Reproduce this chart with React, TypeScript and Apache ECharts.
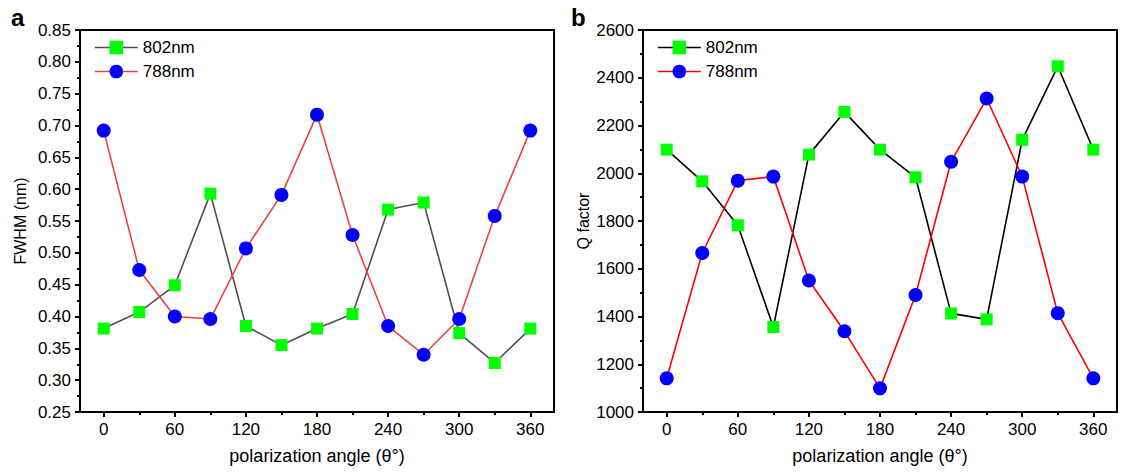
import React, { useEffect, useRef } from 'react';
import * as echarts from 'echarts';

const angles = [0, 30, 60, 90, 120, 150, 180, 210, 240, 270, 300, 330, 360];
const fwhm802 = [0.381, 0.407, 0.449, 0.593, 0.385, 0.355, 0.381, 0.404, 0.568, 0.579, 0.374, 0.327, 0.381];
const fwhm788 = [0.692, 0.473, 0.4, 0.396, 0.507, 0.591, 0.717, 0.528, 0.385, 0.34, 0.396, 0.558, 0.692];
const q802 = [2099, 1966, 1782, 1356, 2078, 2257, 2099, 1983, 1413, 1388, 2140, 2448, 2099];
const q788 = [1141, 1666, 1969, 1986, 1551, 1338, 1099, 1490, 2048, 2313, 1986, 1414, 1141];
const xMajorTicks = [0, 60, 120, 180, 240, 300, 360];
const xMinorTicks = [30, 90, 150, 210, 270, 330];
const seriesNames = ['802nm', '788nm'];
const panelLabels = ['a', 'b'];
const xTitle = 'polarization angle (θ°)';
const yTitles = ['FWHM (nm)', 'Q factor'];

const FONT = 'Liberation Sans, Arial, sans-serif';
const FS = 17;

const leftColors = { l802: '#505050', l788: '#f04040' };
const rightColors = { l802: '#000000', l788: '#ff0000' };

function pairs(ys: number[]) {
  return angles.map((a, i) => [a, ys[i]]);
}

function xAxes(gridIndex: number) {
  return [
    {
      type: 'value',
      gridIndex,
      min: -20,
      max: 380,
      name: xTitle,
      nameLocation: 'middle',
      nameGap: 35,
      nameTextStyle: { fontSize: 18, color: '#000', fontFamily: FONT },
      axisLine: { show: true, onZero: false, lineStyle: { color: '#000', width: 2 } },
      axisTick: { show: true, inside: false, length: 5, customValues: xMajorTicks, lineStyle: { color: '#000', width: 2 } },
      axisLabel: { show: true, customValues: xMajorTicks, margin: 9, fontSize: FS, color: '#000', fontFamily: FONT },
      splitLine: { show: false },
    },
    {
      type: 'value',
      gridIndex,
      min: -20,
      max: 380,
      position: 'bottom',
      axisLine: { show: false },
      axisTick: { show: true, inside: false, length: 3, customValues: xMinorTicks, lineStyle: { color: '#000', width: 2 } },
      axisLabel: { show: false },
      splitLine: { show: false },
    },
  ];
}

function yAxis(gridIndex: number, min: number, max: number, interval: number, name: string, fmt: (v: number) => string) {
  return {
    type: 'value',
    gridIndex,
    min,
    max,
    interval,
    name,
    nameLocation: 'middle',
    nameGap: 52,
    nameTextStyle: { fontSize: 16, color: '#000', fontFamily: FONT },
    axisLine: { show: true, onZero: false, lineStyle: { color: '#000', width: 2 } },
    axisTick: { show: true, inside: false, length: 5, lineStyle: { color: '#000', width: 2 } },
    minorTick: { show: true, splitNumber: 2, length: 3, lineStyle: { color: '#000', width: 2 } },
    axisLabel: { margin: 9, fontSize: FS, color: '#000', fontFamily: FONT, formatter: fmt },
    splitLine: { show: false },
  };
}

function lineSeries(name: string, xi: number, yi: number, data: number[][], lineColor: string, symbol: string, fill: string, size: number) {
  return {
    type: 'line',
    name,
    xAxisIndex: xi,
    yAxisIndex: yi,
    data,
    symbol,
    symbolSize: size,
    showAllSymbol: true,
    lineStyle: { color: lineColor, width: 1.6 },
    itemStyle: { color: fill, borderWidth: 0 },
    emphasis: { disabled: true },
    z: 3,
  };
}

function legend(left: number, colors: { l802: string; l788: string }) {
  return {
    left,
    top: 39,
    padding: 0,
    orient: 'vertical',
    itemWidth: 43,
    itemHeight: 17,
    itemGap: 7,
    data: [
      { name: seriesNames[0], lineStyle: { color: colors.l802, width: 1.6 } },
      { name: seriesNames[1], lineStyle: { color: colors.l788, width: 1.6 } },
    ],
    textStyle: { fontSize: FS, color: '#000', fontFamily: FONT },
    selectedMode: false,
  };
}

export default function App() {
  const ref = useRef<HTMLDivElement>(null);
  useEffect(() => {
    if (!ref.current) return;
    const chart = echarts.init(ref.current, undefined, { renderer: 'svg' });
    const option: any = {
      animation: false,
      backgroundColor: '#fff',
      textStyle: { fontFamily: FONT },
      grid: [
        { left: 80, top: 30, width: 474, height: 382, show: true, borderColor: '#000', borderWidth: 2, backgroundColor: 'transparent' },
        { left: 643, top: 30, width: 474, height: 382, show: true, borderColor: '#000', borderWidth: 2, backgroundColor: 'transparent' },
      ],
      xAxis: [...xAxes(0), ...xAxes(1)],
      yAxis: [
        yAxis(0, 0.25, 0.85, 0.05, yTitles[0], (v: number) => v.toFixed(2)),
        yAxis(1, 1000, 2600, 200, yTitles[1], (v: number) => String(Math.round(v))),
      ],
      legend: [legend(94, leftColors), legend(657, rightColors)],
      graphic: [
        { type: 'text', left: 11, top: 5, style: { text: panelLabels[0], fontSize: 24, fontWeight: 'bold', fill: '#000', fontFamily: FONT } },
        { type: 'text', left: 571, top: 5, style: { text: panelLabels[1], fontSize: 24, fontWeight: 'bold', fill: '#000', fontFamily: FONT } },
      ],
      series: [
        lineSeries(seriesNames[0], 0, 0, pairs(fwhm802), leftColors.l802, 'rect', '#00ff00', 12),
        lineSeries(seriesNames[1], 0, 0, pairs(fwhm788), leftColors.l788, 'circle', '#0000ff', 14),
        lineSeries(seriesNames[0], 2, 1, pairs(q802), rightColors.l802, 'rect', '#00ff00', 12),
        lineSeries(seriesNames[1], 2, 1, pairs(q788), rightColors.l788, 'circle', '#0000ff', 14),
      ],
    };
    chart.setOption(option);
    return () => chart.dispose();
  }, []);
  return <div ref={ref} style={{ position: 'fixed', left: 0, top: 0, width: 1121, height: 473 }} />;
}
